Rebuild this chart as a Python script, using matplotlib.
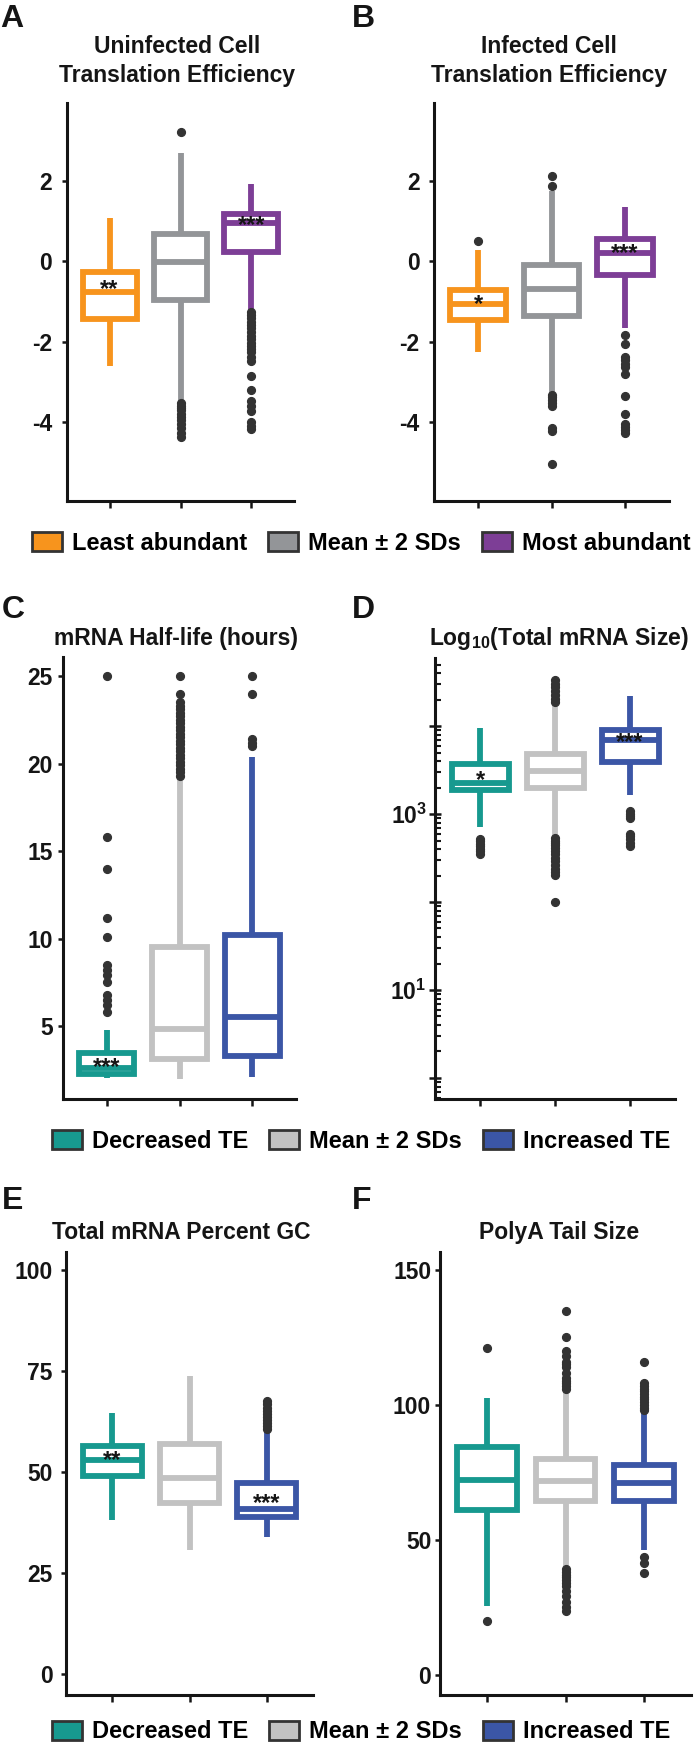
import matplotlib
matplotlib.use('Agg')
import matplotlib.pyplot as plt
from matplotlib.patches import Patch
from matplotlib.ticker import LogLocator, NullFormatter
import numpy as np

plt.rcParams['font.family'] = ['Liberation Sans', 'DejaVu Sans']
plt.rcParams['font.weight'] = 'bold'
plt.rcParams['axes.unicode_minus'] = False
plt.rcParams['mathtext.fontset'] = 'custom'
plt.rcParams['mathtext.rm'] = 'Liberation Sans:bold'
plt.rcParams['mathtext.bf'] = 'Liberation Sans:bold'
plt.rcParams['mathtext.it'] = 'Liberation Sans:bold'
plt.rcParams['mathtext.default'] = 'bf'

# ------------------------------------------------------------------ data
abund_labels = ['Least abundant', 'Mean ± 2 SDs', 'Most abundant']
te_labels = ['Decreased TE', 'Mean ± 2 SDs', 'Increased TE']

# Panel A: Uninfected cell translation efficiency
a_q1 = [-1.42, -0.97, 0.22]
a_med = [-0.75, -0.02, 0.94]
a_q3 = [-0.27, 0.68, 1.17]
a_lo = [-2.60, -3.50, -1.20]
a_hi = [1.08, 2.70, 1.93]
a_fliers = [[],
            [3.2, -3.52, -3.58, -3.64, -3.70, -3.78, -3.86, -3.95, -4.05, -4.15, -4.25, -4.35],
            [-1.27, -1.33, -1.40, -1.50, -1.58, -1.66, -1.76, -1.85, -1.94, -2.02, -2.10, -2.18,
             -2.26, -2.38, -2.48, -2.85, -3.20, -3.47, -3.58, -3.72, -4.00, -4.10, -4.17]]
a_stars = ['**', '', '***']
a_ticks = [-4, -2, 0, 2]
a_ticklabels = ['-4', '-2', '0', '2']

# Panel B: Infected cell translation efficiency
b_q1 = [-1.45, -1.36, -0.35]
b_med = [-1.07, -0.68, 0.21]
b_q3 = [-0.70, -0.09, 0.55]
b_lo = [-2.26, -3.30, -1.65]
b_hi = [0.28, 1.75, 1.34]
b_fliers = [[0.5],
            [1.87, 2.12, -3.32, -3.38, -3.45, -3.52, -3.60, -4.15, -4.22, -5.04],
            [-1.84, -2.06, -2.38, -2.46, -2.54, -2.62, -2.80, -3.34, -3.80, -4.05, -4.12, -4.19, -4.25]]
b_stars = ['*', '', '***']
b_ticks = [-4, -2, 0, 2]
b_ticklabels = ['-4', '-2', '0', '2']

# Panel C: mRNA half-life (hours)
c_q1 = [2.25, 3.10, 3.30]
c_med = [2.60, 4.83, 5.50]
c_q3 = [3.48, 9.50, 10.20]
c_lo = [2.05, 2.00, 2.10]
c_hi = [4.77, 19.20, 20.40]
c_fliers = [[25.0, 15.8, 14.0, 11.2, 10.1, 8.5, 8.2, 7.9, 7.5, 6.8, 6.5, 6.2, 5.8],
            [19.3, 19.5, 19.7, 19.9, 20.1, 20.3, 20.5, 20.7, 20.9, 21.1, 21.3, 21.5, 21.7,
             21.9, 22.1, 22.3, 22.5, 22.7, 22.9, 23.1, 23.3, 23.5, 24.0, 25.0],
            [21.0, 21.2, 21.4, 24.0, 25.0]]
c_stars = ['***', '', '']
c_ticks = [5, 10, 15, 20, 25]
c_ticklabels = ['5', '10', '15', '20', '25']

# Panel D: total mRNA size (log scale)
d_q1 = [1860, 1950, 3890]
d_med = [2270, 3090, 7000]
d_q3 = [3670, 4790, 8910]
d_lo = [710, 545, 1660]
d_hi = [9420, 18200, 21900]
d_fliers = [[525, 490, 460, 430, 400, 375, 355],
            [18800, 20500, 22500, 25000, 27500, 30000, 33000,
             530, 500, 470, 440, 410, 380, 350, 320, 290, 265, 240, 220, 205, 100],
            [1070, 1000, 940, 910, 600, 560, 520, 470, 430]]
d_stars = ['*', '', '***']
d_ticks = [1, 10, 100, 1000, 10000]
d_ticklabels = ['', r'$\mathbf{10^{1}}$', '', r'$\mathbf{10^{3}}$', '']

# Panel E: total mRNA percent GC
e_q1 = [49.1, 42.4, 38.9]
e_med = [53.0, 48.6, 41.0]
e_q3 = [56.6, 56.9, 47.3]
e_lo = [38.3, 30.7, 34.1]
e_hi = [64.6, 73.9, 60.3]
e_fliers = [[], [],
            [60.8, 61.5, 62.2, 63.0, 63.8, 64.5, 65.2, 66.0, 66.8, 67.6]]
e_stars = ['**', '', '***']
e_ticks = [0, 25, 50, 75, 100]
e_ticklabels = ['0', '25', '50', '75', '100']

# Panel F: polyA tail size
f_q1 = [61.1, 64.4, 64.4]
f_med = [72.1, 71.7, 70.9]
f_q3 = [84.4, 79.9, 77.6]
f_lo = [25.5, 40.0, 46.2]
f_hi = [102.5, 104.8, 97.4]
f_fliers = [[121.0, 20.0],
            [106, 107, 108, 109, 110, 112, 114, 115, 116, 118, 120, 125, 135,
             39, 38, 37, 36, 35, 34, 33, 31, 29, 27, 25, 23.5],
            [98, 99, 100, 101, 102, 103, 104, 105, 106, 107, 108, 116, 43.5, 41.5, 37.5]]
f_ticks = [0, 50, 100, 150]
f_ticklabels = ['0', '50', '100', '150']

# ------------------------------------------------------------------ style
ORANGE, GRAY, PURPLE = '#F7941D', '#939598', '#7D3E96'
TEAL, LGRAY, BLUE = '#17998F', '#C2C2C2', '#3B56A6'
FLIER = '#333333'
INK = '#151515'
abund_colors = [ORANGE, GRAY, PURPLE]
te_colors = [TEAL, LGRAY, BLUE]
TICKFS = 16.5

W, H = 694, 1748
fig = plt.figure(figsize=(W / 100, H / 100), dpi=100)


def px_axes(l, t, r, b):
    return fig.add_axes([l / W, 1 - b / H, (r - l) / W, (b - t) / H])


def draw_panel(ax, q1, med, q3, lo, hi, fliers, colors, ticks, ticklabels, ylim, pad,
               log=False):
    stats = []
    for i in range(3):
        stats.append(dict(med=med[i], q1=q1[i], q3=q3[i], whislo=lo[i], whishi=hi[i],
                          fliers=np.array(fliers[i], dtype=float)))
    res = ax.bxp(stats, positions=[1, 2, 3], widths=0.76, patch_artist=True,
                 showcaps=False,
                 boxprops=dict(linewidth=4.2, facecolor='white'),
                 whiskerprops=dict(linewidth=4.2, solid_capstyle='butt'),
                 medianprops=dict(linewidth=4.2, solid_capstyle='butt'),
                 flierprops=dict(marker='o', markersize=5.6, markerfacecolor=FLIER,
                                 markeredgecolor=FLIER, linestyle='none'))
    for i, c in enumerate(colors):
        res['boxes'][i].set_edgecolor(c)
        res['boxes'][i].set_joinstyle('miter')
        res['medians'][i].set_color(c)
        res['whiskers'][2 * i].set_color(c)
        res['whiskers'][2 * i + 1].set_color(c)
    if log:
        ax.set_yscale('log')
    for sp in ['top', 'right']:
        ax.spines[sp].set_visible(False)
    for sp in ['left', 'bottom']:
        ax.spines[sp].set_linewidth(2.2)
        ax.spines[sp].set_color(INK)
    ax.set_xticks([1, 2, 3], labels=['', '', ''])
    ax.set_xlim(0.4, 3.6)
    ax.set_ylim(*ylim)
    ax.set_yticks(ticks, labels=ticklabels, fontsize=TICKFS, fontweight='bold', color=INK)
    ax.tick_params(axis='x', length=5, width=1.8, color=INK)
    ax.tick_params(axis='y', which='major', length=3.8, width=1.8, color=INK, pad=pad)
    return res


def add_stars(ax, med, q3, stars, log=False):
    fs = 17
    for i, s in enumerate(stars):
        if not s:
            continue
        ym = np.sqrt(med[i] * q3[i]) if log else (med[i] + q3[i]) / 2
        ax.annotate(s, xy=(i + 1, ym), xytext=(0, -0.58 * fs), textcoords='offset points',
                    ha='center', va='baseline', fontsize=fs, fontweight='bold',
                    color=INK, zorder=5)


def title(x, y, s):
    fig.text(x / W, 1 - y / H, s, ha='center', va='baseline', fontsize=16.5,
             fontweight='bold', color=INK)


def letter(x, y, s):
    fig.text(x / W, 1 - y / H, s, ha='left', va='baseline', fontsize=23,
             fontweight='bold', color=INK)


# Panel A
axA = px_axes(67, 103, 294, 501)
draw_panel(axA, a_q1, a_med, a_q3, a_lo, a_hi, a_fliers, abund_colors,
           a_ticks, a_ticklabels, (-5.95, 3.93), 7)
add_stars(axA, a_med, a_q3, a_stars)

# Panel B
axB = px_axes(434, 103, 669, 501)
draw_panel(axB, b_q1, b_med, b_q3, b_lo, b_hi, b_fliers, abund_colors,
           b_ticks, b_ticklabels, (-5.95, 3.93), 6.5)
add_stars(axB, b_med, b_q3, b_stars)

# Panel C
axC = px_axes(63, 657, 296, 1099)
draw_panel(axC, c_q1, c_med, c_q3, c_lo, c_hi, c_fliers, te_colors,
           c_ticks, c_ticklabels, (0.83, 26.1), 3.6)
add_stars(axC, c_med, c_q3, c_stars)

# Panel D
axD = px_axes(435, 658, 675, 1099)
draw_panel(axD, d_q1, d_med, d_q3, d_lo, d_hi, d_fliers, te_colors,
           d_ticks, d_ticklabels, (0.577, 59300), 1.5, log=True)
axD.yaxis.set_minor_locator(LogLocator(base=10, subs=np.arange(2, 10)))
axD.yaxis.set_minor_formatter(NullFormatter())
axD.tick_params(axis='y', which='major', direction='inout', length=9, width=1.8, pad=1.5)
axD.tick_params(axis='y', which='minor', direction='in', length=4, width=1.5, color=INK)
add_stars(axD, d_med, d_q3, d_stars, log=True)

# Panel E
axE = px_axes(66, 1252, 313, 1695)
draw_panel(axE, e_q1, e_med, e_q3, e_lo, e_hi, e_fliers, te_colors,
           e_ticks, e_ticklabels, (-5.1, 104.5), 6)
add_stars(axE, e_med, e_q3, e_stars)

# Panel F
axF = px_axes(440, 1252, 691, 1695)
draw_panel(axF, f_q1, f_med, f_q3, f_lo, f_hi, f_fliers, te_colors,
           f_ticks, f_ticklabels, (-7.6, 156.7), 2.5)

# Titles and panel letters
title(177, 53, 'Uninfected Cell')
title(177, 82, 'Translation Efficiency')
title(549, 53, 'Infected Cell')
title(549, 82, 'Translation Efficiency')
title(176, 645, 'mRNA Half-life (hours)')
title(559, 645, r'Log$_{\mathbf{10}}$(Total mRNA Size)')
title(181, 1239, 'Total mRNA Percent GC')
title(559, 1239, 'PolyA Tail Size')

letter(0, 27, 'A')
letter(352, 27, 'B')
letter(2, 618, 'C')
letter(352, 618, 'D')
letter(2, 1209, 'E')
letter(352, 1209, 'F')


# Legends
def add_legend(labels, colors, cy):
    handles = [Patch(facecolor=c, edgecolor='#333333', linewidth=2) for c in colors]
    fig.legend(handles, labels, loc='center', bbox_to_anchor=(361 / W, 1 - cy / H),
               ncol=3, frameon=False, handlelength=1.27, handleheight=0.85,
               handletextpad=0.42, columnspacing=0.89, borderpad=0, borderaxespad=0,
               prop=dict(weight='bold', size=17))


add_legend(abund_labels, abund_colors, 543)
add_legend(te_labels, te_colors, 1141)
add_legend(te_labels, te_colors, 1732)

fig.savefig('out.png', dpi=100)
